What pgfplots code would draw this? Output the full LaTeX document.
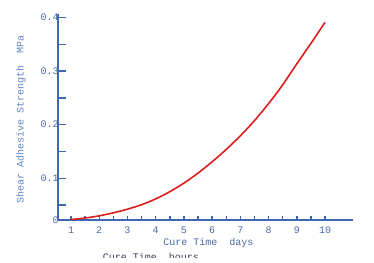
\documentclass[border=0pt]{standalone}
\usepackage{pgfplots}
\pgfplotsset{compat=1.18}
\usepackage{fontspec}
\setmainfont{Liberation Mono}
\definecolor{axblue}{RGB}{62,105,178}
\definecolor{lblblue}{RGB}{75,105,165}
\definecolor{ylblblue}{RGB}{95,130,195}
\definecolor{curvered}{RGB}{222,30,30}
\definecolor{hiddengray}{RGB}{60,65,90}
\pgfplotsset{
  common/.style={
    axis line style={-, draw=axblue, line width=1.8pt},
    tick align=inside,
    tick style={draw=axblue, line width=1.4pt},
  },
  base/.style={
    at={(0,0)}, anchor=south west, scale only axis,
    width=294.7pt, height=206pt,
    xmin=0.55, xmax=10.99, ymin=0.0222, ymax=0.4065,
    /pgf/number format/assume math mode=true,
    clip=false,
  }
}
\begin{document}
\begin{tikzpicture}[font=\fontsize{10}{12}\selectfont]
% y axis with long ticks
\begin{axis}[base,
  axis x line=none, axis y line=left, common,
  xtick=\empty,
  ytick={0.0222,0.1,0.2,0.3,0.4}, yticklabels={0,0.1,0.2,0.3,0.4},
  minor ytick={0.05,0.15,0.25,0.35},
  major tick length=8pt, minor tick length=8pt,
  yticklabel style={text=lblblue, inner sep=0pt, xshift=0.5pt},
]
\end{axis}
% x axis with short ticks, and the curve
\begin{axis}[base,
  axis x line=bottom, axis y line=none, common,
  ytick=\empty,
  xtick={1,...,10}, minor xtick={1.5,2.5,...,9.5},
  major tick length=4.5pt, minor tick length=4.5pt,
  xticklabel style={text=lblblue, yshift=-3.5pt},
]
\addplot[curvered, line width=1.6pt, smooth] coordinates {
(1,0.0231) (1.5,0.0259) (2,0.0300) (2.5,0.0356) (3,0.0424) (3.5,0.0507)
(4,0.0616) (4.5,0.0750) (5,0.0910) (5.5,0.1097) (6,0.1308) (6.5,0.1539)
(7,0.1793) (7.5,0.2076) (8,0.2394) (8.5,0.2744) (9,0.3136) (9.5,0.3517) (10,0.3910)
};
\end{axis}
\node[text=lblblue] at (150.2pt,-23pt) {Cure Time~~days};
\node[rotate=90, text=ylblblue] at (-37.3pt,101pt) {Shear Adhesive Strength~~MPa};
\node[anchor=north, text=hiddengray, inner sep=0pt] at (92.7pt,-33pt) {Cure Time~~hours};
\fill[white] (-58.3pt,-37.8pt) rectangle (315.7pt,-45pt);
\pgfresetboundingbox
\path[use as bounding box] (-58.3pt,-42pt) rectangle (315.7pt,220pt);
\end{tikzpicture}
\end{document}
